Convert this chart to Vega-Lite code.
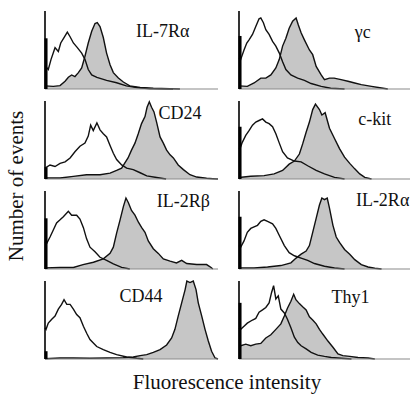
{
"$schema": "https://vega.github.io/schema/vega-lite/v6.json",
"padding": {"left": 5, "top": 10, "right": 0, "bottom": 2},
"background": "white",
"bounds": "flush",
"data": {"values": [
{"r":1,"c":1,"s":"lab","x":68,"y":73,"k":65,"t":"IL-7Rα"},
{"r":1,"c":2,"s":"lab","x":71.5,"y":72,"k":68,"t":"γc"},
{"r":2,"c":1,"s":"lab","x":78,"y":83,"k":15,"t":"CD24"},
{"r":2,"c":2,"s":"lab","x":78.5,"y":76,"k":67,"t":"c-kit"},
{"r":3,"c":1,"s":"lab","x":80,"y":86,"k":65,"t":"IL-2Rβ"},
{"r":3,"c":2,"s":"lab","x":83,"y":87,"k":67,"t":"IL-2Rα"},
{"r":4,"c":1,"s":"lab","x":55.5,"y":79,"k":10,"t":"CD44"},
{"r":4,"c":2,"s":"lab","x":64.5,"y":78,"k":72,"t":"Thy1"},

{"r":1,"c":1,"s":"o","x":0,"y":30},{"r":1,"c":1,"s":"o","x":1.9,"y":25},{"r":1,"c":1,"s":"o","x":3.5,"y":38},{"r":1,"c":1,"s":"o","x":5.8,"y":53},{"r":1,"c":1,"s":"o","x":7.7,"y":48},{"r":1,"c":1,"s":"o","x":9.1,"y":59},{"r":1,"c":1,"s":"o","x":11,"y":66},{"r":1,"c":1,"s":"o","x":12.9,"y":73},{"r":1,"c":1,"s":"o","x":14.5,"y":67},{"r":1,"c":1,"s":"o","x":16.4,"y":59},{"r":1,"c":1,"s":"o","x":18.7,"y":53},{"r":1,"c":1,"s":"o","x":21.2,"y":46},{"r":1,"c":1,"s":"o","x":23.1,"y":38},{"r":1,"c":1,"s":"o","x":25,"y":25},{"r":1,"c":1,"s":"o","x":27,"y":18},{"r":1,"c":1,"s":"o","x":30,"y":15},{"r":1,"c":1,"s":"o","x":35.6,"y":11},{"r":1,"c":1,"s":"o","x":41.4,"y":8},{"r":1,"c":1,"s":"o","x":47,"y":4},{"r":1,"c":1,"s":"o","x":53,"y":2},{"r":1,"c":1,"s":"o","x":60.7,"y":0.4},{"r":1,"c":1,"s":"o","x":74,"y":0},
{"r":1,"c":1,"s":"g","x":0,"y":4},{"r":1,"c":1,"s":"g","x":4.8,"y":3.4},{"r":1,"c":1,"s":"g","x":8.7,"y":4.3},{"r":1,"c":1,"s":"g","x":11.6,"y":10},{"r":1,"c":1,"s":"g","x":13.5,"y":15},{"r":1,"c":1,"s":"g","x":15.4,"y":18},{"r":1,"c":1,"s":"g","x":17.3,"y":16},{"r":1,"c":1,"s":"g","x":19.3,"y":21},{"r":1,"c":1,"s":"g","x":21.2,"y":27},{"r":1,"c":1,"s":"g","x":23.1,"y":42},{"r":1,"c":1,"s":"g","x":25,"y":59},{"r":1,"c":1,"s":"g","x":27,"y":74},{"r":1,"c":1,"s":"g","x":28.9,"y":84},{"r":1,"c":1,"s":"g","x":30.2,"y":85},{"r":1,"c":1,"s":"g","x":31.8,"y":80},{"r":1,"c":1,"s":"g","x":33.7,"y":66},{"r":1,"c":1,"s":"g","x":35.6,"y":46},{"r":1,"c":1,"s":"g","x":37.6,"y":31},{"r":1,"c":1,"s":"g","x":39.5,"y":21},{"r":1,"c":1,"s":"g","x":42.4,"y":14},{"r":1,"c":1,"s":"g","x":45.3,"y":9},{"r":1,"c":1,"s":"g","x":49,"y":4},{"r":1,"c":1,"s":"g","x":55,"y":2},{"r":1,"c":1,"s":"g","x":62.6,"y":1},{"r":1,"c":1,"s":"g","x":72,"y":0.4},{"r":1,"c":1,"s":"g","x":78,"y":0},

{"r":1,"c":2,"s":"o","x":0,"y":40},{"r":1,"c":2,"s":"o","x":1,"y":38},{"r":1,"c":2,"s":"o","x":2.9,"y":50},{"r":1,"c":2,"s":"o","x":4.5,"y":59},{"r":1,"c":2,"s":"o","x":5.8,"y":63},{"r":1,"c":2,"s":"o","x":7.8,"y":70},{"r":1,"c":2,"s":"o","x":9.7,"y":80},{"r":1,"c":2,"s":"o","x":11.6,"y":90},{"r":1,"c":2,"s":"o","x":12.6,"y":91},{"r":1,"c":2,"s":"o","x":14.1,"y":85},{"r":1,"c":2,"s":"o","x":15.5,"y":76},{"r":1,"c":2,"s":"o","x":17.4,"y":70},{"r":1,"c":2,"s":"o","x":19.4,"y":61},{"r":1,"c":2,"s":"o","x":21.3,"y":55},{"r":1,"c":2,"s":"o","x":23.3,"y":46},{"r":1,"c":2,"s":"o","x":25.2,"y":35},{"r":1,"c":2,"s":"o","x":27.1,"y":25},{"r":1,"c":2,"s":"o","x":30,"y":18},{"r":1,"c":2,"s":"o","x":33.9,"y":14},{"r":1,"c":2,"s":"o","x":37.8,"y":11},{"r":1,"c":2,"s":"o","x":41.7,"y":7},{"r":1,"c":2,"s":"o","x":47.5,"y":3.4},{"r":1,"c":2,"s":"o","x":53,"y":1},{"r":1,"c":2,"s":"o","x":61,"y":0},
{"r":1,"c":2,"s":"g","x":0,"y":4},{"r":1,"c":2,"s":"g","x":4.8,"y":3.4},{"r":1,"c":2,"s":"g","x":8.7,"y":7.7},{"r":1,"c":2,"s":"g","x":12.6,"y":14},{"r":1,"c":2,"s":"g","x":15.5,"y":14},{"r":1,"c":2,"s":"g","x":18.4,"y":18},{"r":1,"c":2,"s":"g","x":21.3,"y":27},{"r":1,"c":2,"s":"g","x":23.3,"y":38},{"r":1,"c":2,"s":"g","x":25.2,"y":55},{"r":1,"c":2,"s":"g","x":27.1,"y":65},{"r":1,"c":2,"s":"g","x":29,"y":78},{"r":1,"c":2,"s":"g","x":31,"y":87},{"r":1,"c":2,"s":"g","x":33,"y":91},{"r":1,"c":2,"s":"g","x":34.3,"y":82},{"r":1,"c":2,"s":"g","x":35.9,"y":72},{"r":1,"c":2,"s":"g","x":37.8,"y":63},{"r":1,"c":2,"s":"g","x":40.7,"y":50},{"r":1,"c":2,"s":"g","x":42.6,"y":44},{"r":1,"c":2,"s":"g","x":44.6,"y":29},{"r":1,"c":2,"s":"g","x":47.5,"y":18},{"r":1,"c":2,"s":"g","x":49.4,"y":12},{"r":1,"c":2,"s":"g","x":52.3,"y":14},{"r":1,"c":2,"s":"g","x":55,"y":14},{"r":1,"c":2,"s":"g","x":59,"y":12},{"r":1,"c":2,"s":"g","x":63,"y":10},{"r":1,"c":2,"s":"g","x":66.9,"y":7.7},{"r":1,"c":2,"s":"g","x":70.7,"y":5.6},{"r":1,"c":2,"s":"g","x":76.6,"y":3.4},{"r":1,"c":2,"s":"g","x":82.4,"y":1.3},{"r":1,"c":2,"s":"g","x":86,"y":0},

{"r":2,"c":1,"s":"o","x":0,"y":14},{"r":2,"c":1,"s":"o","x":2.9,"y":18},{"r":2,"c":1,"s":"o","x":5.8,"y":16},{"r":2,"c":1,"s":"o","x":8.7,"y":20},{"r":2,"c":1,"s":"o","x":11.6,"y":22},{"r":2,"c":1,"s":"o","x":14.5,"y":27},{"r":2,"c":1,"s":"o","x":17.3,"y":35},{"r":2,"c":1,"s":"o","x":20.2,"y":42},{"r":2,"c":1,"s":"o","x":23.1,"y":46},{"r":2,"c":1,"s":"o","x":25,"y":55},{"r":2,"c":1,"s":"o","x":26.4,"y":69},{"r":2,"c":1,"s":"o","x":27.9,"y":62},{"r":2,"c":1,"s":"o","x":30,"y":72},{"r":2,"c":1,"s":"o","x":31.8,"y":63},{"r":2,"c":1,"s":"o","x":33.7,"y":58},{"r":2,"c":1,"s":"o","x":35.6,"y":54},{"r":2,"c":1,"s":"o","x":37.6,"y":43},{"r":2,"c":1,"s":"o","x":39.5,"y":33},{"r":2,"c":1,"s":"o","x":41.4,"y":25},{"r":2,"c":1,"s":"o","x":44.3,"y":18},{"r":2,"c":1,"s":"o","x":47.2,"y":14},{"r":2,"c":1,"s":"o","x":51,"y":12},{"r":2,"c":1,"s":"o","x":55,"y":8},{"r":2,"c":1,"s":"o","x":58.8,"y":4},{"r":2,"c":1,"s":"o","x":64.5,"y":2},{"r":2,"c":1,"s":"o","x":70,"y":0},
{"r":2,"c":1,"s":"g","x":0,"y":1.3},{"r":2,"c":1,"s":"g","x":8.7,"y":1.3},{"r":2,"c":1,"s":"g","x":16.4,"y":3.4},{"r":2,"c":1,"s":"g","x":24,"y":5.5},{"r":2,"c":1,"s":"g","x":31.8,"y":5.5},{"r":2,"c":1,"s":"g","x":37.6,"y":7.6},{"r":2,"c":1,"s":"g","x":41.4,"y":11},{"r":2,"c":1,"s":"g","x":44.3,"y":14},{"r":2,"c":1,"s":"g","x":46,"y":20},{"r":2,"c":1,"s":"g","x":48,"y":27},{"r":2,"c":1,"s":"g","x":50,"y":37},{"r":2,"c":1,"s":"g","x":52,"y":46},{"r":2,"c":1,"s":"g","x":53.9,"y":58},{"r":2,"c":1,"s":"g","x":55.8,"y":71},{"r":2,"c":1,"s":"g","x":57.8,"y":80},{"r":2,"c":1,"s":"g","x":59,"y":92},{"r":2,"c":1,"s":"g","x":60.3,"y":99},{"r":2,"c":1,"s":"g","x":61.6,"y":92},{"r":2,"c":1,"s":"g","x":63,"y":86},{"r":2,"c":1,"s":"g","x":64.5,"y":73},{"r":2,"c":1,"s":"g","x":66.5,"y":54},{"r":2,"c":1,"s":"g","x":68.4,"y":46},{"r":2,"c":1,"s":"g","x":70.3,"y":37},{"r":2,"c":1,"s":"g","x":72.3,"y":31},{"r":2,"c":1,"s":"g","x":74.2,"y":27},{"r":2,"c":1,"s":"g","x":77,"y":18},{"r":2,"c":1,"s":"g","x":80,"y":12},{"r":2,"c":1,"s":"g","x":83.8,"y":5.5},{"r":2,"c":1,"s":"g","x":87.7,"y":2.5},{"r":2,"c":1,"s":"g","x":93.4,"y":1},{"r":2,"c":1,"s":"g","x":97,"y":0.4},{"r":2,"c":1,"s":"g","x":100,"y":0},

{"r":2,"c":2,"s":"o","x":0,"y":40},{"r":2,"c":2,"s":"o","x":0.6,"y":39},{"r":2,"c":2,"s":"o","x":1.9,"y":47},{"r":2,"c":2,"s":"o","x":3.9,"y":56},{"r":2,"c":2,"s":"o","x":5.8,"y":62},{"r":2,"c":2,"s":"o","x":7.8,"y":69},{"r":2,"c":2,"s":"o","x":9.7,"y":73},{"r":2,"c":2,"s":"o","x":11.6,"y":75},{"r":2,"c":2,"s":"o","x":13.6,"y":77},{"r":2,"c":2,"s":"o","x":15.5,"y":73},{"r":2,"c":2,"s":"o","x":17.4,"y":71},{"r":2,"c":2,"s":"o","x":19.4,"y":67},{"r":2,"c":2,"s":"o","x":21.3,"y":58},{"r":2,"c":2,"s":"o","x":23.3,"y":46},{"r":2,"c":2,"s":"o","x":25.2,"y":35},{"r":2,"c":2,"s":"o","x":28,"y":27},{"r":2,"c":2,"s":"o","x":32,"y":23},{"r":2,"c":2,"s":"o","x":35.9,"y":22},{"r":2,"c":2,"s":"o","x":39.7,"y":17},{"r":2,"c":2,"s":"o","x":44.6,"y":11},{"r":2,"c":2,"s":"o","x":49.4,"y":6.5},{"r":2,"c":2,"s":"o","x":55.2,"y":2},{"r":2,"c":2,"s":"o","x":61,"y":0},
{"r":2,"c":2,"s":"g","x":0,"y":2},{"r":2,"c":2,"s":"g","x":6.8,"y":3.5},{"r":2,"c":2,"s":"g","x":14.5,"y":4.3},{"r":2,"c":2,"s":"g","x":20.3,"y":6.5},{"r":2,"c":2,"s":"g","x":25.2,"y":11},{"r":2,"c":2,"s":"g","x":29,"y":19},{"r":2,"c":2,"s":"g","x":32,"y":23},{"r":2,"c":2,"s":"g","x":34.9,"y":32},{"r":2,"c":2,"s":"g","x":36.8,"y":45},{"r":2,"c":2,"s":"g","x":38.8,"y":60},{"r":2,"c":2,"s":"g","x":40.7,"y":73},{"r":2,"c":2,"s":"g","x":42.6,"y":89},{"r":2,"c":2,"s":"g","x":44.2,"y":96},{"r":2,"c":2,"s":"g","x":46.5,"y":89},{"r":2,"c":2,"s":"g","x":47.9,"y":82},{"r":2,"c":2,"s":"g","x":49.8,"y":85},{"r":2,"c":2,"s":"g","x":52.3,"y":65},{"r":2,"c":2,"s":"g","x":55.2,"y":52},{"r":2,"c":2,"s":"g","x":58.1,"y":39},{"r":2,"c":2,"s":"g","x":61,"y":28},{"r":2,"c":2,"s":"g","x":64,"y":20},{"r":2,"c":2,"s":"g","x":66.9,"y":13},{"r":2,"c":2,"s":"g","x":69.8,"y":6.5},{"r":2,"c":2,"s":"g","x":72.7,"y":2},{"r":2,"c":2,"s":"g","x":76.6,"y":0},

{"r":3,"c":1,"s":"o","x":0,"y":35},{"r":3,"c":1,"s":"o","x":1,"y":33},{"r":3,"c":1,"s":"o","x":2.9,"y":41},{"r":3,"c":1,"s":"o","x":4.8,"y":50},{"r":3,"c":1,"s":"o","x":6.7,"y":59},{"r":3,"c":1,"s":"o","x":8.7,"y":63},{"r":3,"c":1,"s":"o","x":10.6,"y":67},{"r":3,"c":1,"s":"o","x":13.5,"y":74},{"r":3,"c":1,"s":"o","x":15.4,"y":69},{"r":3,"c":1,"s":"o","x":18.3,"y":69},{"r":3,"c":1,"s":"o","x":20.2,"y":64},{"r":3,"c":1,"s":"o","x":22.2,"y":53},{"r":3,"c":1,"s":"o","x":24,"y":39},{"r":3,"c":1,"s":"o","x":26,"y":28},{"r":3,"c":1,"s":"o","x":28.9,"y":22},{"r":3,"c":1,"s":"o","x":31.8,"y":15},{"r":3,"c":1,"s":"o","x":35.6,"y":11},{"r":3,"c":1,"s":"o","x":39.5,"y":6.5},{"r":3,"c":1,"s":"o","x":44.3,"y":2},{"r":3,"c":1,"s":"o","x":49,"y":0},
{"r":3,"c":1,"s":"g","x":0,"y":1.3},{"r":3,"c":1,"s":"g","x":8.7,"y":2},{"r":3,"c":1,"s":"g","x":16.4,"y":2},{"r":3,"c":1,"s":"g","x":22,"y":5.7},{"r":3,"c":1,"s":"g","x":28,"y":8.7},{"r":3,"c":1,"s":"g","x":33.7,"y":13},{"r":3,"c":1,"s":"g","x":37.6,"y":20},{"r":3,"c":1,"s":"g","x":39.5,"y":28},{"r":3,"c":1,"s":"g","x":41.4,"y":46},{"r":3,"c":1,"s":"g","x":43.4,"y":63},{"r":3,"c":1,"s":"g","x":45.3,"y":80},{"r":3,"c":1,"s":"g","x":46.8,"y":91},{"r":3,"c":1,"s":"g","x":48.2,"y":85},{"r":3,"c":1,"s":"g","x":50,"y":75},{"r":3,"c":1,"s":"g","x":52,"y":69},{"r":3,"c":1,"s":"g","x":54,"y":60},{"r":3,"c":1,"s":"g","x":55.9,"y":53},{"r":3,"c":1,"s":"g","x":57.8,"y":47},{"r":3,"c":1,"s":"g","x":59.7,"y":36},{"r":3,"c":1,"s":"g","x":62.6,"y":26},{"r":3,"c":1,"s":"g","x":65.5,"y":20},{"r":3,"c":1,"s":"g","x":68.4,"y":13},{"r":3,"c":1,"s":"g","x":72.3,"y":10},{"r":3,"c":1,"s":"g","x":76,"y":7.8},{"r":3,"c":1,"s":"g","x":79,"y":11},{"r":3,"c":1,"s":"g","x":81.9,"y":7},{"r":3,"c":1,"s":"g","x":87.7,"y":5.7},{"r":3,"c":1,"s":"g","x":93.4,"y":5.7},{"r":3,"c":1,"s":"g","x":96,"y":2},{"r":3,"c":1,"s":"g","x":97,"y":0},

{"r":3,"c":2,"s":"o","x":0,"y":30},{"r":3,"c":2,"s":"o","x":1,"y":28},{"r":3,"c":2,"s":"o","x":2.9,"y":36},{"r":3,"c":2,"s":"o","x":4.8,"y":47},{"r":3,"c":2,"s":"o","x":6.8,"y":52},{"r":3,"c":2,"s":"o","x":8.7,"y":54},{"r":3,"c":2,"s":"o","x":10.7,"y":56},{"r":3,"c":2,"s":"o","x":12.6,"y":61},{"r":3,"c":2,"s":"o","x":14.5,"y":63},{"r":3,"c":2,"s":"o","x":16.5,"y":61},{"r":3,"c":2,"s":"o","x":19.4,"y":58},{"r":3,"c":2,"s":"o","x":21.3,"y":52},{"r":3,"c":2,"s":"o","x":23.3,"y":43},{"r":3,"c":2,"s":"o","x":26.2,"y":30},{"r":3,"c":2,"s":"o","x":29,"y":21},{"r":3,"c":2,"s":"o","x":32,"y":17},{"r":3,"c":2,"s":"o","x":35.9,"y":14},{"r":3,"c":2,"s":"o","x":39.7,"y":11},{"r":3,"c":2,"s":"o","x":43.6,"y":7},{"r":3,"c":2,"s":"o","x":49.4,"y":3.5},{"r":3,"c":2,"s":"o","x":55.2,"y":1.3},{"r":3,"c":2,"s":"o","x":61,"y":0},
{"r":3,"c":2,"s":"g","x":0,"y":1.3},{"r":3,"c":2,"s":"g","x":8.7,"y":1.3},{"r":3,"c":2,"s":"g","x":16.5,"y":2.6},{"r":3,"c":2,"s":"g","x":24.2,"y":4.4},{"r":3,"c":2,"s":"g","x":30,"y":7.9},{"r":3,"c":2,"s":"g","x":33,"y":14},{"r":3,"c":2,"s":"g","x":35.9,"y":19},{"r":3,"c":2,"s":"g","x":38.8,"y":23},{"r":3,"c":2,"s":"g","x":40.7,"y":30},{"r":3,"c":2,"s":"g","x":42.6,"y":47},{"r":3,"c":2,"s":"g","x":44.6,"y":65},{"r":3,"c":2,"s":"g","x":46.5,"y":82},{"r":3,"c":2,"s":"g","x":47.9,"y":91},{"r":3,"c":2,"s":"g","x":49.4,"y":89},{"r":3,"c":2,"s":"g","x":51,"y":91},{"r":3,"c":2,"s":"g","x":52.3,"y":78},{"r":3,"c":2,"s":"g","x":54.3,"y":56},{"r":3,"c":2,"s":"g","x":56.2,"y":41},{"r":3,"c":2,"s":"g","x":58.1,"y":34},{"r":3,"c":2,"s":"g","x":61,"y":25},{"r":3,"c":2,"s":"g","x":64,"y":19},{"r":3,"c":2,"s":"g","x":66.9,"y":12},{"r":3,"c":2,"s":"g","x":70.7,"y":5.7},{"r":3,"c":2,"s":"g","x":74.6,"y":2.6},{"r":3,"c":2,"s":"g","x":78.5,"y":0.9},{"r":3,"c":2,"s":"g","x":82.4,"y":0},

{"r":4,"c":1,"s":"o","x":0,"y":40},{"r":4,"c":1,"s":"o","x":0.6,"y":38},{"r":4,"c":1,"s":"o","x":1.9,"y":46},{"r":4,"c":1,"s":"o","x":3.9,"y":51},{"r":4,"c":1,"s":"o","x":5.8,"y":55},{"r":4,"c":1,"s":"o","x":7.7,"y":64},{"r":4,"c":1,"s":"o","x":9.6,"y":70},{"r":4,"c":1,"s":"o","x":11,"y":76},{"r":4,"c":1,"s":"o","x":12.6,"y":70},{"r":4,"c":1,"s":"o","x":14.5,"y":70},{"r":4,"c":1,"s":"o","x":16.4,"y":64},{"r":4,"c":1,"s":"o","x":18.3,"y":57},{"r":4,"c":1,"s":"o","x":20.2,"y":53},{"r":4,"c":1,"s":"o","x":22.2,"y":42},{"r":4,"c":1,"s":"o","x":24.1,"y":33},{"r":4,"c":1,"s":"o","x":26,"y":25},{"r":4,"c":1,"s":"o","x":29.9,"y":16},{"r":4,"c":1,"s":"o","x":33.7,"y":12},{"r":4,"c":1,"s":"o","x":37.6,"y":8.6},{"r":4,"c":1,"s":"o","x":41.4,"y":5.6},{"r":4,"c":1,"s":"o","x":47.2,"y":2.6},{"r":4,"c":1,"s":"o","x":53,"y":0.9},{"r":4,"c":1,"s":"o","x":56.8,"y":0},
{"r":4,"c":1,"s":"g","x":0,"y":0.4},{"r":4,"c":1,"s":"g","x":8.7,"y":1.3},{"r":4,"c":1,"s":"g","x":16.4,"y":1.3},{"r":4,"c":1,"s":"g","x":26,"y":0.9},{"r":4,"c":1,"s":"g","x":35.6,"y":1.3},{"r":4,"c":1,"s":"g","x":45.3,"y":1.7},{"r":4,"c":1,"s":"g","x":51,"y":2.6},{"r":4,"c":1,"s":"g","x":55,"y":4.3},{"r":4,"c":1,"s":"g","x":58.8,"y":5.6},{"r":4,"c":1,"s":"g","x":62.6,"y":8.6},{"r":4,"c":1,"s":"g","x":66.5,"y":12},{"r":4,"c":1,"s":"g","x":70.3,"y":18},{"r":4,"c":1,"s":"g","x":73.2,"y":27},{"r":4,"c":1,"s":"g","x":75.1,"y":38},{"r":4,"c":1,"s":"g","x":77,"y":55},{"r":4,"c":1,"s":"g","x":79,"y":72},{"r":4,"c":1,"s":"g","x":81,"y":89},{"r":4,"c":1,"s":"g","x":82,"y":100},{"r":4,"c":1,"s":"g","x":83.8,"y":98},{"r":4,"c":1,"s":"g","x":85.7,"y":100},{"r":4,"c":1,"s":"g","x":87.3,"y":89},{"r":4,"c":1,"s":"g","x":88.6,"y":72},{"r":4,"c":1,"s":"g","x":90.6,"y":55},{"r":4,"c":1,"s":"g","x":92.5,"y":38},{"r":4,"c":1,"s":"g","x":94.4,"y":23},{"r":4,"c":1,"s":"g","x":96.3,"y":10},{"r":4,"c":1,"s":"g","x":98.3,"y":1.3},{"r":4,"c":1,"s":"g","x":100,"y":0},

{"r":4,"c":2,"s":"o","x":0,"y":40},{"r":4,"c":2,"s":"o","x":1,"y":38},{"r":4,"c":2,"s":"o","x":2.9,"y":42},{"r":4,"c":2,"s":"o","x":4.8,"y":46},{"r":4,"c":2,"s":"o","x":7.8,"y":50},{"r":4,"c":2,"s":"o","x":9.7,"y":52},{"r":4,"c":2,"s":"o","x":11.6,"y":60},{"r":4,"c":2,"s":"o","x":13.6,"y":63},{"r":4,"c":2,"s":"o","x":15.5,"y":66},{"r":4,"c":2,"s":"o","x":17.4,"y":72},{"r":4,"c":2,"s":"o","x":18.8,"y":85},{"r":4,"c":2,"s":"o","x":20,"y":94},{"r":4,"c":2,"s":"o","x":21.3,"y":77},{"r":4,"c":2,"s":"o","x":22.7,"y":81},{"r":4,"c":2,"s":"o","x":24.2,"y":64},{"r":4,"c":2,"s":"o","x":26.2,"y":59},{"r":4,"c":2,"s":"o","x":28,"y":51},{"r":4,"c":2,"s":"o","x":30,"y":40},{"r":4,"c":2,"s":"o","x":32,"y":28},{"r":4,"c":2,"s":"o","x":34,"y":21},{"r":4,"c":2,"s":"o","x":35.9,"y":17},{"r":4,"c":2,"s":"o","x":38.8,"y":13},{"r":4,"c":2,"s":"o","x":41.7,"y":8.5},{"r":4,"c":2,"s":"o","x":45.5,"y":5},{"r":4,"c":2,"s":"o","x":49.4,"y":3.4},{"r":4,"c":2,"s":"o","x":53.3,"y":2},{"r":4,"c":2,"s":"o","x":59,"y":0.9},{"r":4,"c":2,"s":"o","x":65,"y":0},
{"r":4,"c":2,"s":"g","x":0,"y":17},{"r":4,"c":2,"s":"g","x":1,"y":17},{"r":4,"c":2,"s":"g","x":3.9,"y":19},{"r":4,"c":2,"s":"g","x":6.8,"y":17},{"r":4,"c":2,"s":"g","x":9.7,"y":19},{"r":4,"c":2,"s":"g","x":12.6,"y":20},{"r":4,"c":2,"s":"g","x":15.5,"y":27},{"r":4,"c":2,"s":"g","x":18.4,"y":31},{"r":4,"c":2,"s":"g","x":21.3,"y":38},{"r":4,"c":2,"s":"g","x":24.2,"y":45},{"r":4,"c":2,"s":"g","x":26.2,"y":55},{"r":4,"c":2,"s":"g","x":28,"y":65},{"r":4,"c":2,"s":"g","x":30,"y":74},{"r":4,"c":2,"s":"g","x":31.6,"y":83},{"r":4,"c":2,"s":"g","x":32.9,"y":76},{"r":4,"c":2,"s":"g","x":34.9,"y":71},{"r":4,"c":2,"s":"g","x":36.8,"y":67},{"r":4,"c":2,"s":"g","x":38.8,"y":63},{"r":4,"c":2,"s":"g","x":40.7,"y":54},{"r":4,"c":2,"s":"g","x":42.6,"y":50},{"r":4,"c":2,"s":"g","x":44.6,"y":45},{"r":4,"c":2,"s":"g","x":46.5,"y":38},{"r":4,"c":2,"s":"g","x":48.4,"y":32},{"r":4,"c":2,"s":"g","x":51.4,"y":23},{"r":4,"c":2,"s":"g","x":54.3,"y":15},{"r":4,"c":2,"s":"g","x":57.2,"y":6.4},{"r":4,"c":2,"s":"g","x":60,"y":4.3},{"r":4,"c":2,"s":"g","x":64,"y":3.4},{"r":4,"c":2,"s":"g","x":68.8,"y":2},{"r":4,"c":2,"s":"g","x":74.6,"y":1.3},{"r":4,"c":2,"s":"g","x":78.5,"y":0}
]},
"facet": {
  "row": {"field": "r", "type": "ordinal", "title": "Number of events", "header": {"labels": false, "labelPadding": 0, "titleFont": "Liberation Serif", "titleFontSize": 21, "titleFontWeight": "normal", "titleColor": "#111111", "titlePadding": 8}},
  "column": {"field": "c", "type": "ordinal", "title": "Fluorescence intensity", "header": {"labels": false, "labelPadding": 0, "titleOrient": "bottom", "labelOrient": "bottom", "titleFont": "Liberation Serif", "titleFontSize": 21, "titleFontWeight": "normal", "titleColor": "#111111", "titlePadding": 3}}
},
"spacing": {"row": 12, "column": 21},
"spec": {
  "width": 173,
  "height": 78,
  "layer": [
    {"transform": [{"filter": "datum.s == 'g'"}],
     "mark": {"type": "area", "color": "#c6c6c6", "opacity": 1},
     "encoding": {
       "x": {"field": "x", "type": "quantitative", "scale": {"domain": [0, 100], "nice": false, "zero": false}, "axis": null},
       "y": {"field": "y", "type": "quantitative", "scale": {"domain": [0, 100], "nice": false}, "axis": null}}},
    {"transform": [{"filter": "datum.s == 'g'"}],
     "mark": {"type": "line", "color": "#111111", "strokeWidth": 1.4},
     "encoding": {
       "x": {"field": "x", "type": "quantitative", "axis": null},
       "y": {"field": "y", "type": "quantitative", "axis": null}}},
    {"transform": [{"filter": "datum.s == 'o'"}],
     "mark": {"type": "line", "color": "#111111", "strokeWidth": 1.4},
     "encoding": {
       "x": {"field": "x", "type": "quantitative", "axis": null},
       "y": {"field": "y", "type": "quantitative", "axis": null}}},
    {"transform": [{"filter": "datum.s == 'lab'"}],
     "mark": {"type": "rule", "color": "#8a8a8a", "strokeWidth": 1.2},
     "encoding": {
       "x": {"datum": 0, "type": "quantitative", "axis": null},
       "x2": {"datum": 100},
       "y": {"datum": 0, "type": "quantitative", "axis": null}}},
    {"transform": [{"filter": "datum.s == 'lab'"}],
     "mark": {"type": "rule", "color": "#000000", "strokeWidth": 1.6},
     "encoding": {
       "y": {"datum": 0, "type": "quantitative", "axis": null},
       "y2": {"datum": 100},
       "x": {"datum": 0, "type": "quantitative", "axis": null}}},
    {"transform": [{"filter": "datum.s == 'lab'"}],
     "mark": {"type": "rule", "color": "#000000", "strokeWidth": 3},
     "encoding": {
       "x": {"datum": 0.6, "type": "quantitative", "axis": null},
       "y": {"field": "k", "type": "quantitative", "axis": null},
       "y2": {"datum": 0}}},
    {"transform": [{"filter": "datum.s == 'lab'"}],
     "mark": {"type": "text", "font": "Liberation Serif", "fontSize": 18, "color": "#111111", "align": "center", "baseline": "middle"},
     "encoding": {
       "x": {"field": "x", "type": "quantitative", "axis": null},
       "y": {"field": "y", "type": "quantitative", "axis": null},
       "text": {"field": "t"}}}
  ]
},
"config": {
  "view": {"stroke": null}
}
}
